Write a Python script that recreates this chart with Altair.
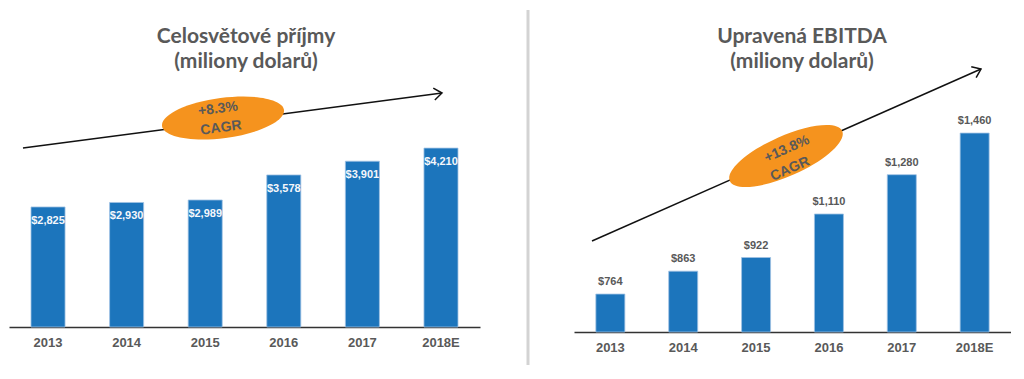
import altair as alt
import pandas as pd

years = ["2013", "2014", "2015", "2016", "2017", "2018E"]
revenue = [2825, 2930, 2989, 3578, 3901, 4210]
ebitda = [764, 863, 922, 1110, 1280, 1460]

left_title = ["Celosvětové příjmy", "(miliony dolarů)"]
right_title = ["Upravená EBITDA", "(miliony dolarů)"]
left_cagr = ["+8.3%", "CAGR"]
right_cagr = ["+13.8%", "CAGR"]

BAR = "#1c75bc"
GRAY = "#595959"
ORANGE = "#f5931e"
ELLIPSE = "M -1 0 A 1 0.327 0 1 0 1 0 A 1 0.327 0 1 0 -1 0 Z"
CHEVRON = "M -1 -0.75 L 0 0 L -1 0.75"

df_l = pd.DataFrame({"year": years, "value": revenue})
df_r = pd.DataFrame({"year": years, "value": ebitda})
dummy = pd.DataFrame({"k": [0]})

xaxis = alt.Axis(title=None, labelAngle=0, ticks=False, domainColor="#333333",
                 domainWidth=1.5, labelFont="Liberation Sans", labelFontWeight="bold",
                 labelFontSize=13, labelColor=GRAY, labelPadding=9)


def annot(x, y, x2, y2, ex, ey, ang, t1, t2, tcol):
    base = alt.Chart(dummy)
    line = base.mark_rule(color="#111111", strokeWidth=1.5).encode(
        x=alt.value(x), y=alt.value(y), x2=alt.value(x2), y2=alt.value(y2))
    head = base.mark_point(shape=CHEVRON, filled=False, color="#111111", strokeWidth=1.5,
                           opacity=1, size=256, angle=ang).encode(
        x=alt.value(x2), y=alt.value(y2))
    ell = base.mark_point(shape=ELLIPSE, filled=True, color=ORANGE, opacity=1,
                          size=15129, angle=ang).encode(x=alt.value(ex), y=alt.value(ey))
    txt1 = base.mark_text(font="Liberation Sans", fontWeight="bold", fontSize=14,
                          color=GRAY, angle=ang).encode(
        x=alt.value(tcol[0][0]), y=alt.value(tcol[0][1]), text=alt.value(t1))
    txt2 = base.mark_text(font="Liberation Sans", fontWeight="bold", fontSize=14,
                          color=GRAY, angle=ang).encode(
        x=alt.value(tcol[1][0]), y=alt.value(tcol[1][1]), text=alt.value(t2))
    return [line, head, ell, txt1, txt2]


def title(lines, cx):
    base = alt.Chart(dummy)
    return [
        base.mark_text(font="Lato", fontWeight="bold", fontSize=21, color=GRAY).encode(
            x=alt.value(cx), y=alt.value(27), text=alt.value(lines[0])),
        base.mark_text(font="Lato", fontWeight="bold", fontSize=21, color=GRAY).encode(
            x=alt.value(cx), y=alt.value(52), text=alt.value(lines[1])),
    ]


# Left panel
xl = alt.X("year:N", sort=years, axis=xaxis,
           scale=alt.Scale(paddingInner=0.567, paddingOuter=0.28))
yl = alt.Y("value:Q", axis=None, scale=alt.Scale(domain=[0, 7460]))
bars_l = alt.Chart(df_l).mark_bar(color=BAR, stroke="#9fc2e3", strokeWidth=0.8).encode(x=xl, y=yl)
lab_l = alt.Chart(df_l).mark_text(font="Liberation Sans", fontWeight="bold", fontSize=11,
                                  color="#f4f7fb", dy=14).encode(
    x=xl, y=yl, text=alt.Text("value:Q", format="$,.0f"))
left = alt.layer(
    bars_l, lab_l,
    *annot(14, 138, 433, 83, 214, 108, 352.5, left_cagr[0], left_cagr[1],
           [(209, 99), (212, 118)]),
    *title(left_title, 237),
).properties(width=471, height=317)

# Right panel
xr = alt.X("year:N", sort=years, axis=xaxis,
           scale=alt.Scale(paddingInner=0.602, paddingOuter=0.30))
yr = alt.Y("value:Q", axis=None, scale=alt.Scale(domain=[600, 1992], zero=False))
bars_r = alt.Chart(df_r).mark_bar(color=BAR, stroke="#9fc2e3", strokeWidth=0.8).encode(
    x=xr, y=yr, y2=alt.datum(600))
lab_r = alt.Chart(df_r).mark_text(font="Liberation Sans", fontWeight="bold", fontSize=11,
                                  color=GRAY, dy=-12).encode(
    x=xr, y=yr, text=alt.Text("value:Q", format="$,.0f"))
divider = alt.Chart(dummy).mark_rule(color="#d3d3d3", strokeWidth=3).encode(
    x=alt.value(-46), y=alt.value(0), y2=alt.value(355))
right = alt.layer(
    divider, bars_r, lab_r,
    *annot(18, 231, 407, 59, 212, 146, 336, right_cagr[0], right_cagr[1],
           [(213, 139), (216, 159)]),
    *title(right_title, 228),
).properties(width=437, height=322)

chart = alt.hconcat(left, right, spacing=94, bounds="flush").properties(
    padding={"left": 1, "top": 0, "right": 0, "bottom": 0}
).configure_view(stroke=None)

chart.save("out.html", embed_options={"renderer": "svg", "actions": False})
